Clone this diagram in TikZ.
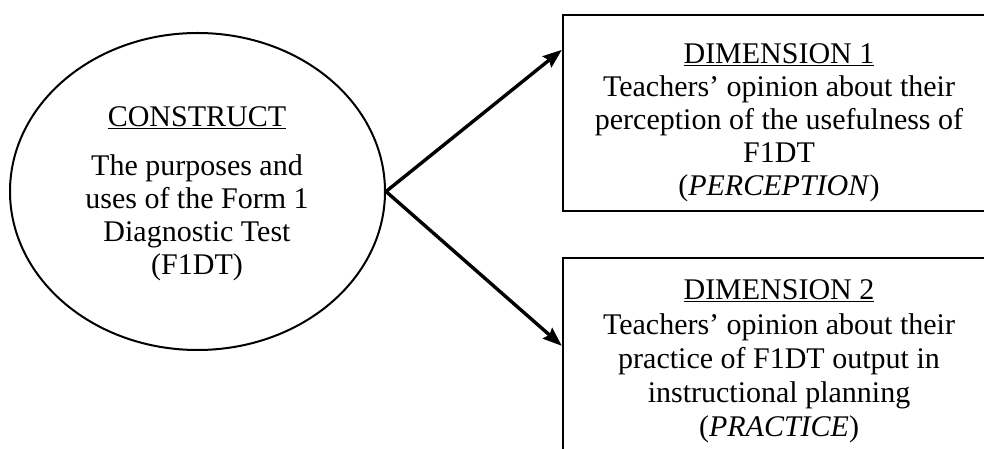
\documentclass[tikz,border=0pt]{standalone}
\usepackage{fontspec}
\setmainfont{Liberation Serif}
\usetikzlibrary{shapes.geometric,arrows.meta}
\begin{document}
\begin{tikzpicture}[x=1pt,y=1pt,
  txt/.style={align=center,inner sep=0pt,font=\fontsize{30}{33}\selectfont},
  dimbox/.style={draw,line width=2.3pt,minimum width=432pt,inner sep=0pt},
  conn/.style={line width=3.4pt,-{Stealth[length=19pt,width=14pt,inset=2.5pt]}}]
\useasboundingbox (0,0) rectangle (984,449);
\clip (0,0) rectangle (984,449);
\node[draw,ellipse,line width=2pt,minimum width=375pt,minimum height=317pt,inner sep=0pt] (c) at (197.5,257.5) {};
\node[txt] (ct) at (197,255) {\underline{CONSTRUCT}\\[16pt]The purposes and\\uses of the Form 1\\Diagnostic Test\\(F1DT)};
\node[dimbox,minimum height=196pt] (b1) at (779,336) {};
\node[txt] (t1) at (779,326) {\underline{DIMENSION 1}\\Teachers’ opinion about their\\perception of the usefulness of\\F1DT\\(\textit{PERCEPTION})};
\node[dimbox,minimum height=212pt] (b2) at (779,85) {};
\node[txt,font=\fontsize{30}{34.2}\selectfont] (t2) at (779,87.5) {\underline{DIMENSION 2}\\Teachers’ opinion about their\\practice of F1DT output in\\instructional planning\\(\textit{PRACTICE})};
\draw[conn] (c.east) -- ([yshift=-36pt]b1.north west);
\draw[conn] (c.east) -- ([yshift=-89pt]b2.north west);
\end{tikzpicture}
\end{document}
